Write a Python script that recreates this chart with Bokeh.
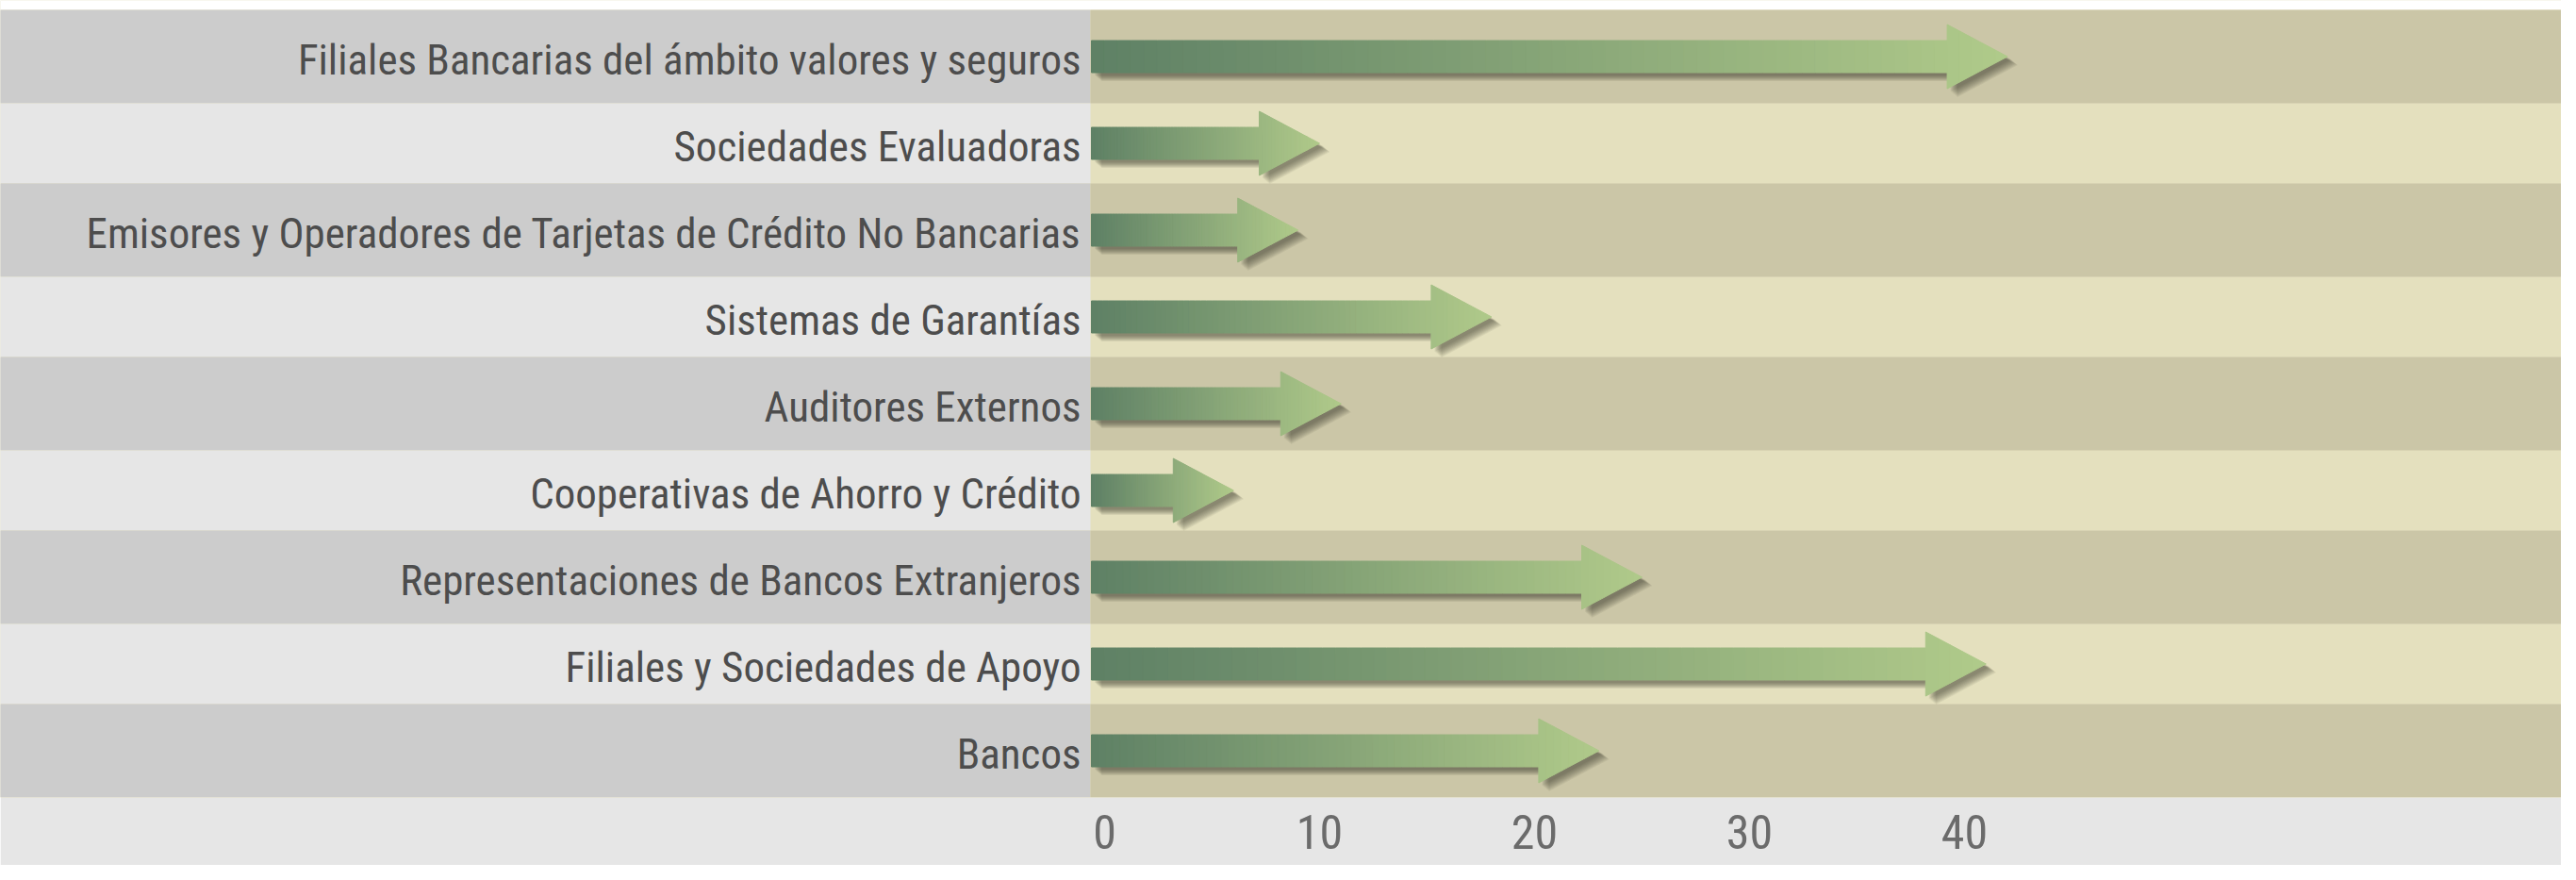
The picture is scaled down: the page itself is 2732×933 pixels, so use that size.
from bokeh.plotting import figure
from bokeh.models import Range1d, FixedTicker
from bokeh.core.properties import value
from bokeh.embed import file_html
from bokeh.resources import INLINE

# ---------------- data ----------------
categories = [
    "Filiales Bancarias del ámbito valores y seguros",
    "Sociedades Evaluadoras",
    "Emisores y Operadores de Tarjetas de Crédito No Bancarias",
    "Sistemas de Garantías",
    "Auditores Externos",
    "Cooperativas de Ahorro y Crédito",
    "Representaciones de Bancos Extranjeros",
    "Filiales y Sociedades de Apoyo",
    "Bancos",
]
values = [42, 10, 9, 18, 11, 6, 25, 41, 23]
tick_values = [0, 10, 20, 30, 40]

# ---------------- layout / style ----------------
W, H = 2716, 917
FRAME_H = 845          # frame height (px); the value axis sits below it
PX = 22.8              # pixels per unit
X0 = 1171              # x (px) of value 0
PANEL_EDGE = 1156      # x (px) where the plot panel begins
BAND_START = 10
ROW_DARK, ROW_LIGHT = 99, 85
HEAD_PX, BODY_HALF, HEAD_HALF = 64, 17, 34
FONT = "Roboto Condensed, DejaVu Sans Condensed, Liberation Sans Narrow, Roboto"

C_LEFT_DARK, C_LEFT_LIGHT = "#cccccc", "#e6e6e6"
C_PLOT_DARK, C_PLOT_LIGHT = "#cbc6a7", "#e4e0be"
C0, C1 = (94, 128, 101), (176, 202, 138)

x_start = -X0 / PX
x_end = (W - X0) / PX
split = (PANEL_EDGE - X0) / PX
base = (PANEL_EDGE + 1 - X0) / PX

p = figure(width=W, height=H, output_backend="svg", toolbar_location=None,
           x_range=Range1d(x_start, x_end), y_range=Range1d(FRAME_H, 0),
           min_border_left=0, min_border_right=0, min_border_top=0,
           min_border_bottom=H - FRAME_H)
p.background_fill_color = C_PLOT_LIGHT
p.border_fill_color = "#e6e6e6"
p.outline_line_color = None
p.grid.visible = False
p.yaxis.visible = False

# top white strip
p.quad(left=x_start - 5, right=x_end + 5, top=-2, bottom=BAND_START,
       fill_color="white", line_color=None)

# rows
y = BAND_START
centers = []
for i, cat in enumerate(categories):
    h = ROW_DARK if i % 2 == 0 else ROW_LIGHT
    top, bot = y, y + h
    centers.append((top + bot) / 2)
    p.quad(left=x_start - 5, right=split, top=top, bottom=bot,
           fill_color=C_LEFT_DARK if i % 2 == 0 else C_LEFT_LIGHT, line_color=None)
    if i % 2 == 0:
        p.quad(left=split, right=x_end + 5, top=top, bottom=bot,
               fill_color=C_PLOT_DARK, line_color=None)
    y = bot

# category labels
p.text(x=[split - 10 / PX] * len(categories), y=[c + 3 for c in centers], text=categories,
       text_align="right", text_baseline="middle",
       text_font=value(FONT), text_font_size="45px", text_color="#4d4d4d")

head_u = HEAD_PX / PX


def outline(v, c, dx=0.0, dy=0.0):
    hs = v - head_u
    xs = [base, hs, hs, v, hs, hs, base]
    ys = [c - BODY_HALF, c - BODY_HALF, c - HEAD_HALF, c, c + HEAD_HALF, c + BODY_HALF, c + BODY_HALF]
    return [x + dx / PX for x in xs], [yy + dy for yy in ys]


# shadows
for k in range(9):
    d = 4 + k
    sx, sy = [], []
    for v, c in zip(values, centers):
        xs, ys = outline(v, c, d * 0.9, d * 0.75)
        sx.append(xs)
        sy.append(ys)
    p.patches(sx, sy, fill_color="#3b3a28", fill_alpha=0.075, line_color=None)


def col(t):
    r = [int(round(C0[j] + (C1[j] - C0[j]) * t)) for j in range(3)]
    return "#%02x%02x%02x" % tuple(r)


# arrows with a left-to-right colour gradient
gx, gy, gc = [], [], []
N = 70
for v, c in zip(values, centers):
    hs = v - head_u
    length = v - base
    nb = max(4, int(round(N * (hs - base) / length)))
    nh = max(4, N - nb)
    for j in range(nb):
        a = base + (hs - base) * j / nb
        b = base + (hs - base) * (j + 1) / nb
        gx.append([a, b, b, a])
        gy.append([c - BODY_HALF, c - BODY_HALF, c + BODY_HALF, c + BODY_HALF])
        gc.append(col(((a + b) / 2 - base) / length))
    for j in range(nh):
        a, b = hs + head_u * j / nh, hs + head_u * (j + 1) / nh
        ha = HEAD_HALF * (v - a) / head_u
        hb = HEAD_HALF * (v - b) / head_u
        gx.append([a, b, b, a])
        gy.append([c - ha, c - hb, c + hb, c + ha])
        gc.append(col(((a + b) / 2 - base) / length))
p.patches(gx, gy, fill_color=gc, line_color=gc, line_width=1)

# value axis
ax = p.xaxis[0]
ax.ticker = FixedTicker(ticks=tick_values)
ax.minor_tick_line_color = None
ax.major_tick_line_color = None
ax.axis_line_color = None
ax.major_label_text_font = FONT
ax.major_label_text_font_size = "50px"
ax.major_label_text_color = "#6b6b6b"
ax.major_label_standoff = 12

open("out.html", "w").write(file_html(p, INLINE))
